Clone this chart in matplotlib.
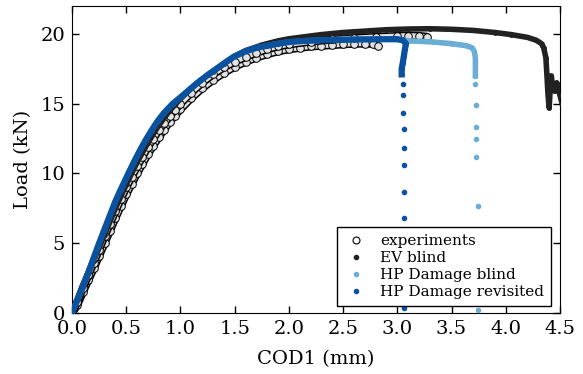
import matplotlib
matplotlib.use("Agg")
import matplotlib.pyplot as plt

plt.rcParams["font.family"] = ["DejaVu Serif"]
plt.rcParams["font.size"] = 14
plt.rcParams["xtick.direction"] = "in"
plt.rcParams["ytick.direction"] = "in"
plt.rcParams["xtick.top"] = True
plt.rcParams["ytick.right"] = True

# experiment 1 (lower band)
exp1_x = [0.0, 0.05, 0.1, 0.15, 0.2, 0.25, 0.3, 0.35, 0.4, 0.45, 0.5, 0.55, 0.6, 0.65, 0.7, 0.75,
          0.8, 0.85, 0.9, 0.95, 1.0, 1.1, 1.2, 1.3, 1.4, 1.5, 1.6, 1.7, 1.8, 1.9, 2.0, 2.1, 2.2,
          2.3, 2.4, 2.5, 2.6, 2.7, 2.78, 2.82]
exp1_y = [0.0, 0.6, 1.5, 2.35, 3.2, 4.1, 5.0, 5.9, 6.8, 7.65, 8.5, 9.25, 10.0, 10.7, 11.4, 12.0,
          12.6, 13.15, 13.7, 14.15, 14.6, 15.4, 16.1, 16.7, 17.2, 17.65, 18.0, 18.3, 18.55, 18.75,
          18.9, 19.0, 19.1, 19.15, 19.2, 19.25, 19.3, 19.3, 19.3, 19.15]
# experiment 2 (upper band)
exp2_x = [0.0, 0.05, 0.1, 0.15, 0.2, 0.25, 0.3, 0.35, 0.4, 0.45, 0.5, 0.55, 0.6, 0.65, 0.7, 0.75,
          0.8, 0.85, 0.9, 0.95, 1.0, 1.1, 1.2, 1.3, 1.4, 1.5, 1.6, 1.7, 1.8, 1.9, 2.0, 2.2, 2.4,
          2.6, 2.8, 3.0, 3.1, 3.2, 3.27]
exp2_y = [0.0, 0.8, 1.8, 2.7, 3.6, 4.55, 5.5, 6.4, 7.3, 8.15, 9.0, 9.75, 10.5, 11.2, 11.9, 12.5,
          13.1, 13.6, 14.1, 14.55, 15.0, 15.8, 16.5, 17.1, 17.6, 18.0, 18.35, 18.65, 18.9, 19.1,
          19.25, 19.45, 19.6, 19.7, 19.78, 19.85, 19.88, 19.85, 19.8]

# EV blind
ev_x = [0.0, 0.1, 0.2, 0.3, 0.4, 0.5, 0.6, 0.7, 0.8, 0.9, 1.0, 1.1, 1.2, 1.3, 1.4, 1.5, 1.6,
        1.75, 1.9, 2.0, 2.15, 2.3, 2.5, 2.7, 2.9, 3.1, 3.3, 3.5, 3.7, 3.9, 4.05, 4.2, 4.28,
        4.33, 4.35, 4.37, 4.38, 4.39, 4.40, 4.41, 4.42, 4.43, 4.45, 4.47, 4.5, 4.52]
ev_y = [0.0, 1.85, 3.75, 5.6, 7.5, 9.2, 10.8, 12.2, 13.45, 14.5, 15.35, 16.1, 16.75, 17.3, 17.85,
        18.4, 18.8, 19.2, 19.5, 19.65, 19.8, 19.95, 20.1, 20.2, 20.3, 20.35, 20.37, 20.33, 20.25,
        20.1, 19.95, 19.75, 19.55, 19.3, 19.0, 18.3, 17.0, 15.6, 14.7, 16.0, 17.0, 16.4, 15.9,
        16.5, 15.6, 15.0]

# HP Damage blind
blind_x = [0.0, 0.05, 0.1, 0.15, 0.2, 0.25, 0.3, 0.35, 0.4, 0.45, 0.52, 0.57, 0.63, 0.68, 0.735,
           0.79, 0.85, 0.93, 1.0, 1.06, 1.15, 1.25, 1.35, 1.45, 1.5, 1.6, 1.7, 1.8, 1.9, 2.0,
           2.15, 2.3, 2.6, 2.9, 3.0, 3.12, 3.33, 3.5, 3.64, 3.69, 3.71, 3.72, 3.72, 3.72]
blind_y = [0.0, 0.95, 1.9, 2.9, 3.95, 5.0, 6.0, 7.0, 8.0, 8.85, 10.0, 10.8, 11.7, 12.4, 13.1,
           13.75, 14.35, 15.0, 15.45, 15.85, 16.45, 17.05, 17.6, 18.15, 18.4, 18.75, 19.0, 19.15,
           19.3, 19.42, 19.5, 19.55, 19.6, 19.62, 19.6, 19.5, 19.42, 19.3, 19.15, 19.0, 18.75,
           18.3, 17.7, 17.0]
blind_drop_x = [3.72, 3.73, 3.73, 3.73, 3.73, 3.74, 3.74]
blind_drop_y = [16.4, 14.9, 13.3, 12.5, 11.2, 7.7, 0.2]

# HP Damage revisited
rev_x = [0.0, 0.05, 0.1, 0.15, 0.2, 0.25, 0.3, 0.35, 0.4, 0.45, 0.52, 0.57, 0.63, 0.68, 0.735,
         0.79, 0.85, 0.93, 1.0, 1.06, 1.15, 1.25, 1.35, 1.45, 1.5, 1.6, 1.7, 1.8, 1.9, 2.0,
         2.15, 2.3, 2.6, 2.9, 3.0, 3.05, 3.08, 3.07, 3.06, 3.05, 3.04, 3.04]
rev_y = [0.0, 0.95, 1.9, 2.9, 3.95, 5.0, 6.0, 7.0, 8.0, 8.85, 10.0, 10.8, 11.7, 12.4, 13.1,
         13.75, 14.35, 15.0, 15.45, 15.85, 16.45, 17.05, 17.6, 18.15, 18.4, 18.75, 19.0, 19.15,
         19.3, 19.42, 19.5, 19.55, 19.6, 19.62, 19.62, 19.55, 19.3, 18.9, 18.4, 17.9, 17.5, 17.1]
rev_drop_x = [3.05, 3.05, 3.05, 3.06, 3.06, 3.06, 3.06, 3.06, 3.06]
rev_drop_y = [16.4, 15.6, 14.3, 13.2, 11.8, 10.6, 8.7, 6.8, 0.35]

c_ev = "#222222"
c_blind = "#6aaed6"
c_rev = "#0a52a0"

fig = plt.figure(figsize=(5.83, 3.74), dpi=100)
ax = fig.add_axes([0.1235, 0.163, 0.837, 0.821])

# experiments: tube-looking band with open circles
for ex, ey in [(exp1_x, exp1_y), (exp2_x, exp2_y)]:
    ax.plot(ex, ey, color="black", lw=5.8, solid_capstyle="round", zorder=2)
    ax.plot(ex, ey, color="#e2e2e2", lw=3.6, solid_capstyle="round", zorder=2)
    ax.plot(ex, ey, "o", ms=5.5, mfc="#e2e2e2", mec="black", mew=0.7, zorder=2)

ax.plot(ev_x, ev_y, color=c_ev, lw=4, zorder=3)
ax.plot(ev_x, ev_y, ".", color=c_ev, ms=5, zorder=3)

ax.plot(blind_x, blind_y, color=c_blind, lw=4, zorder=4)
ax.plot(blind_x, blind_y, ".", color=c_blind, ms=5, zorder=4)
ax.plot(blind_drop_x, blind_drop_y, ".", color=c_blind, ms=6, zorder=4)

ax.plot(rev_x, rev_y, color=c_rev, lw=4.5, zorder=5)
ax.plot(rev_x, rev_y, ".", color=c_rev, ms=5, zorder=5)
ax.plot(rev_drop_x, rev_drop_y, ".", color=c_rev, ms=6, zorder=5)

# legend handles
h1, = ax.plot([], [], "o", ms=5, mfc="white", mec="black", mew=0.8, label="experiments")
h2, = ax.plot([], [], ".", color=c_ev, ms=6, label="EV blind")
h3, = ax.plot([], [], ".", color=c_blind, ms=6, label="HP Damage blind")
h4, = ax.plot([], [], ".", color=c_rev, ms=6, label="HP Damage revisited")
leg = ax.legend(handles=[h1, h2, h3, h4], loc="lower right", bbox_to_anchor=(0.982, 0.023),
                fontsize=11, numpoints=1, fancybox=False, framealpha=1, edgecolor="black",
                borderaxespad=0, handletextpad=0.8, labelspacing=0.2, borderpad=0.45,
                handlelength=1.6)
leg.get_frame().set_linewidth(1.0)
leg.set_zorder(10)

ax.set_xlim(0, 4.5)
ax.set_ylim(0, 22)
ax.set_xticks([0.0, 0.5, 1.0, 1.5, 2.0, 2.5, 3.0, 3.5, 4.0, 4.5])
ax.set_yticks([0, 5, 10, 15, 20])
ax.tick_params(length=5, width=1, pad=5)
ax.set_xlabel("COD1 (mm)", labelpad=9)
ax.set_ylabel("Load (kN)", labelpad=6)

fig.savefig("out.png", dpi=100)
